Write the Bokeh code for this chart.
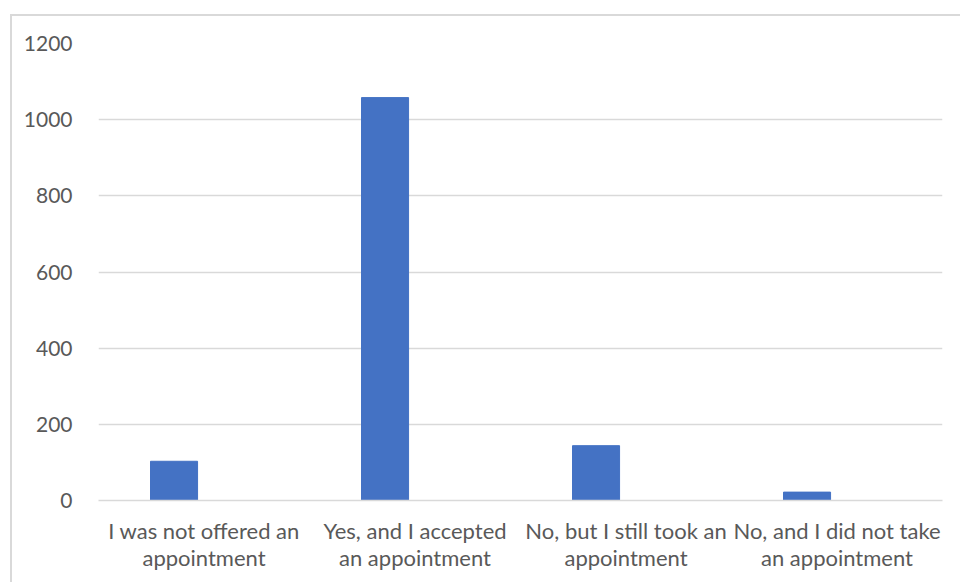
from bokeh.plotting import figure
from bokeh.models import Range1d, FixedTicker, ColumnDataSource
from bokeh.transform import dodge
from bokeh.embed import file_html
from bokeh.resources import INLINE

categories = ["I was not offered an\nappointment",
              "Yes, and I accepted\nan appointment",
              "No, but I still took an\nappointment",
              "No, and I did not take\nan appointment"]
values = [103, 1058, 144, 22]
y_ticks = [0, 200, 400, 600, 800, 1000, 1200]

FONT = "Lato"
TXT = "#595959"
GRID = "#d9d9d9"

source = ColumnDataSource(data=dict(cat=categories, val=values))

p = figure(x_range=categories, y_range=Range1d(0, 1200),
           frame_width=844, frame_height=457,
           min_border_left=86, min_border_right=18, min_border_top=27, min_border_bottom=82,
           output_backend="svg", toolbar_location=None,
           margin=(14, 0, 0, 10),
           styles={"border-top": "2px solid #d9d9d9", "border-left": "2px solid #d9d9d9"})

p.vbar(x=dodge("cat", -0.142, range=p.x_range), top="val", width=0.223,
       color="#4472C4", source=source)

p.outline_line_color = None
p.background_fill_color = "white"
p.border_fill_color = "white"

p.xgrid.grid_line_color = None
p.ygrid.grid_line_color = GRID
p.ygrid.grid_line_width = 1.3
p.yaxis.ticker = FixedTicker(ticks=y_ticks)

p.yaxis.axis_line_color = None
p.yaxis.major_tick_line_color = None
p.yaxis.minor_tick_line_color = None
p.yaxis.major_label_standoff = 20
p.yaxis.major_label_text_font = FONT
p.yaxis.major_label_text_font_size = "21px"
p.yaxis.major_label_text_color = TXT

p.xaxis.axis_line_color = GRID
p.xaxis.axis_line_width = 1.5
p.xaxis.major_tick_line_color = None
p.xaxis.minor_tick_line_color = None
p.xaxis.major_label_standoff = 10
p.xaxis.major_label_text_font = FONT
p.xaxis.major_label_text_font_size = "22px"
p.xaxis.major_label_text_line_height = 1.02
p.xaxis.major_label_text_color = TXT
p.xaxis.major_label_orientation = "horizontal"

open("out.html", "w").write(file_html(p, INLINE))
